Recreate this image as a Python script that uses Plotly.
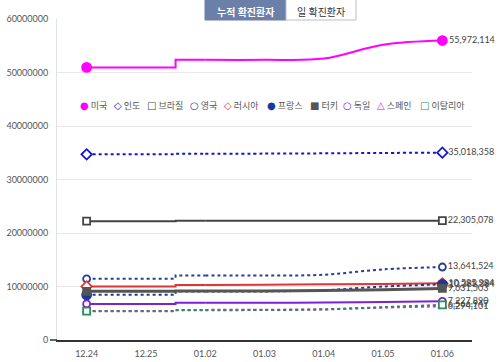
import plotly.graph_objects as go

dates = ["12.24", "12.25", "01.02", "01.03", "01.04", "01.05", "01.06"]

names = ["미국", "인도", "브라질", "영국", "러시아", "프랑스", "터키", "독일", "스페인", "이탈리아"]

us = [50950000, 50950000, 52370000, 52370000, 52600000, 55200000, 55972114]
india = [34700000, 34700000, 34790000, 34840000, 34890000, 34960000, 35018358]
brazil = [22210000, 22210000, 22290000, 22290000, 22290000, 22300000, 22305078]
uk = [11440000, 11440000, 12060000, 12060000, 12200000, 13200000, 13641524]
russia = [10020000, 10020000, 10300000, 10350000, 10400000, 10470000, 10585984]
france = [8440000, 8440000, 9060000, 9080000, 9300000, 10000000, 10388384]
turkey = [9100000, 9100000, 9150000, 9180000, 9250000, 9400000, 9631503]
germany = [6750000, 6750000, 6940000, 6960000, 7000000, 7120000, 7227890]
spain = [5440000, 5440000, 5630000, 5660000, 5750000, 6050000, 6294101]
italy = [5380000, 5380000, 5570000, 5600000, 5700000, 6150000, 6566947]

series = [us, india, brazil, uk, russia, france, turkey, germany, spain, italy]

colors = ["#ff00ff", "#1515d0", "#444444", "#243f94", "#e03535",
          "#1a3a9a", "#555555", "#7b22d4", "#ee22dd", "#2e8b57"]
symbols = ["circle", "diamond", "square", "circle", "diamond",
           "circle", "square", "circle", "triangle-up", "square"]
filled = [True, False, False, False, False, True, True, False, False, False]
dashes = ["solid", "dot", "solid", "dot", "solid", "dot", "solid", "solid", "dot", "dot"]
widths = [2, 2, 2, 2, 2, 2, 3, 2, 2, 2]
legend_glyphs = ["●", "◇", "□", "○", "◇", "●", "■", "○", "△", "□"]

fig = go.Figure()

for name, vals, c, sym, fil, dash, w in zip(names, series, colors, symbols, filled, dashes, widths):
    # left part (step between 12.25 and 01.02)
    fig.add_trace(go.Scatter(
        x=dates[:3], y=vals[:3], mode="lines",
        line=dict(color=c, width=w, dash=dash, shape="hvh"),
        showlegend=False, hoverinfo="skip"))
    # right part (smooth)
    fig.add_trace(go.Scatter(
        x=dates[2:], y=vals[2:], mode="lines",
        line=dict(color=c, width=w, dash=dash, shape="spline"),
        showlegend=False, hoverinfo="skip"))
    # end markers + label
    fig.add_trace(go.Scatter(
        x=[dates[0], dates[-1]], y=[vals[0], vals[-1]],
        mode="markers+text",
        text=["", f"{vals[-1]:,}"],
        textposition="middle right",
        textfont=dict(family="Lato", size=9, color="#444444"),
        marker=dict(symbol=sym, size=(9 if sym == "circle" and fil else 7) if sym != "diamond" else 8,
                    color=c if fil else "white",
                    line=dict(color=c, width=1.8)),
        cliponaxis=False, showlegend=False, name=name, hoverinfo="skip"))

L, R, T, B = 57, 28, 19, 22
W, H = 500, 362
pw, ph = W - L - R, H - T - B


def px_x(p):
    return (p - L) / pw


def px_y(p):
    return (H - B - p) / ph


# legend built from names/colors
annotations = []
xpos = 78
for name, c, g in zip(names, colors, legend_glyphs):
    annotations.append(dict(
        x=px_x(xpos), y=px_y(105), xref="paper", yref="paper",
        xanchor="left", yanchor="middle", showarrow=False,
        text=f"<span style='color:{c};font-family:DejaVu Sans;font-size:10px'><b>{g}</b></span> {name}",
        font=dict(family="Noto Sans CJK KR", size=9, color="#555555")))
    xpos += 15 + len(name) * 9.3

# toggle buttons
b1x0, b1x1, b2x1 = 205, 286, 356
shapes = [
    dict(type="rect", xref="paper", yref="paper",
         x0=px_x(193), x1=px_x(375), y0=px_y(24), y1=px_y(0),
         fillcolor="white", line=dict(width=0), layer="above"),
    dict(type="rect", xref="paper", yref="paper",
         x0=px_x(b1x0), x1=px_x(b1x1), y0=px_y(20), y1=px_y(-2),
         fillcolor="#6b80a8", line=dict(color="#6b80a8", width=1), layer="above"),
    dict(type="rect", xref="paper", yref="paper",
         x0=px_x(b1x1), x1=px_x(b2x1), y0=px_y(20), y1=px_y(-2),
         fillcolor="white", line=dict(color="#b8bfcc", width=1), layer="above"),
    dict(type="line", xref="paper", yref="paper",
         x0=px_x(50), x1=0, y0=0, y1=0,
         line=dict(color="#333333", width=1.5)),
]
annotations.append(dict(
    x=px_x((b1x0 + b1x1) / 2), y=px_y(2), xref="paper", yref="paper",
    yanchor="top", showarrow=False, text="<b>누적 확진환자</b>",
    font=dict(family="Noto Sans CJK KR", size=10, color="white")))
annotations.append(dict(
    x=px_x((b1x1 + b2x1) / 2), y=px_y(2), xref="paper", yref="paper",
    yanchor="top", showarrow=False, text="일 확진환자",
    font=dict(family="Noto Sans CJK KR", size=10, color="#333333")))

fig.update_layout(
    width=W, height=H,
    margin=dict(l=L, r=R, t=T, b=B, autoexpand=False),
    paper_bgcolor="white", plot_bgcolor="white",
    showlegend=False, hovermode=False,
    shapes=shapes, annotations=annotations,
    xaxis=dict(type="category", categoryorder="array", categoryarray=dates,
               range=[-0.5, len(dates) - 0.5], automargin=False,
               showgrid=False, showline=True, linecolor="#333333", linewidth=1.5,
               ticks="outside", ticklen=5, tickcolor="rgba(0,0,0,0)",
               tickfont=dict(family="Lato", size=9, color="#555555"),
               fixedrange=True),
    yaxis=dict(range=[0, 60000000], dtick=10000000, tickformat="d", automargin=False,
               showgrid=True, gridcolor="#e8e8e8", gridwidth=1,
               showline=True, linecolor="#e2e2e2", zeroline=False,
               ticks="outside", ticklen=6, tickcolor="rgba(0,0,0,0)",
               tickfont=dict(family="Lato", size=9, color="#555555"),
               fixedrange=True),
)

fig.write_html("out.html", config={"displayModeBar": False, "staticPlot": True},
               post_script="document.body.style.margin='0';document.body.style.overflow='hidden';")
